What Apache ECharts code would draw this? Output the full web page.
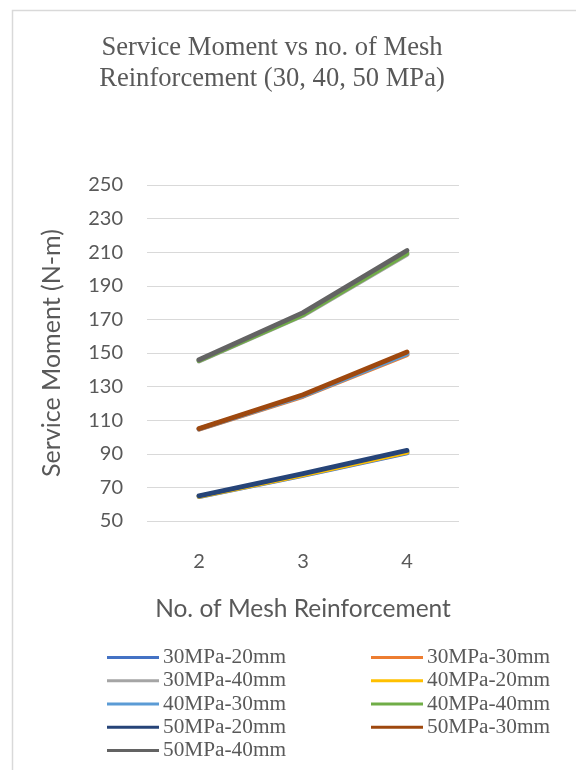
<!DOCTYPE html>
<html>
<head>
<meta charset="utf-8">
<script src="https://cdn.jsdelivr.net/npm/echarts@6/dist/echarts.min.js"></script>
<style>
  html, body { margin: 0; padding: 0; background: #fff; }
  #chart { width: 576px; height: 770px; }
</style>
</head>
<body>
<div id="chart"></div>
<script>
// Number of mesh layers on the x axis
const meshCounts = ['2', '3', '4'];

// Service moment (N-m) per concrete strength / bar spacing
const m30_20 = [64.5, 77.2, 90.6];
const m30_30 = [104.6, 124.2, 149.0];
const m30_40 = [145.2, 172.4, 208.6];
const m40_20 = [64.7, 77.5, 91.0];
const m40_30 = [104.8, 124.6, 149.6];
const m40_40 = [145.5, 172.8, 209.2];
const m50_20 = [65.0, 78.2, 92.0];
const m50_30 = [105.0, 125.2, 150.6];
const m50_40 = [146.0, 174.0, 211.0];

const seriesNames = [
  '30MPa-20mm', '30MPa-30mm', '30MPa-40mm',
  '40MPa-20mm', '40MPa-30mm', '40MPa-40mm',
  '50MPa-20mm', '50MPa-30mm', '50MPa-40mm'
];
const seriesData = [m30_20, m30_30, m30_40, m40_20, m40_30, m40_40, m50_20, m50_30, m50_40];
const seriesColors = [
  '#4472C4', '#ED7D31', '#A5A5A5',
  '#FFC000', '#5B9BD5', '#70AD47',
  '#264478', '#9E480E', '#636363'
];

const chartTitle = 'Service Moment vs no. of Mesh\nReinforcement (30, 40, 50 MPa)';

const serif = '"Liberation Serif", "Times New Roman", serif';
const sans = 'Lato, "Open Sans", sans-serif';
const textGrey = '#595959';

const chart = echarts.init(document.getElementById('chart'), null, { renderer: 'canvas' });

const legendBase = {
  orient: 'vertical',
  icon: 'rect',
  itemWidth: 52,
  itemHeight: 3,
  itemGap: 0,
  padding: 0,
  textStyle: { fontFamily: serif, fontSize: 21.3, color: textGrey, lineHeight: 23.2, padding: [0, 0, 0, -1] }
};

chart.setOption({
  animation: false,
  backgroundColor: '#ffffff',
  graphic: [
    {
      // chart-area frame
      type: 'rect',
      shape: { x: 12.5, y: 10.5, width: 700, height: 900 },
      style: { fill: 'none', stroke: '#d9d9d9', lineWidth: 1.5 },
      silent: true
    },
    {
      type: 'text',
      x: 272,
      y: 33,
      silent: true,
      style: {
        text: chartTitle,
        fontFamily: serif,
        fontSize: 26.6,
        lineHeight: 30.5,
        fill: textGrey,
        align: 'center',
        verticalAlign: 'top'
      }
    }
  ],
  legend: [
    Object.assign({ left: 107, top: 646, data: ['30MPa-20mm', '30MPa-40mm', '40MPa-30mm', '50MPa-20mm', '50MPa-40mm'] }, legendBase),
    Object.assign({ left: 371, top: 646, data: ['30MPa-30mm', '40MPa-20mm', '40MPa-40mm', '50MPa-30mm'] }, legendBase)
  ],
  grid: { left: 147, top: 185, width: 312, height: 336 },
  xAxis: {
    type: 'category',
    data: meshCounts,
    boundaryGap: true,
    axisLine: { show: false },
    axisTick: { show: false },
    axisLabel: { fontFamily: sans, fontSize: 20, color: textGrey, margin: 31 },
    name: 'No. of Mesh Reinforcement',
    nameLocation: 'middle',
    nameGap: 76,
    nameTextStyle: { fontFamily: sans, fontSize: 24.5, color: textGrey }
  },
  yAxis: {
    type: 'value',
    min: 50,
    max: 250,
    interval: 20,
    axisLine: { show: false },
    axisTick: { show: false },
    splitLine: { lineStyle: { color: '#d9d9d9', width: 1 } },
    axisLabel: { fontFamily: sans, fontSize: 20, color: textGrey, margin: 24 },
    name: 'Service Moment (N-m)',
    nameLocation: 'middle',
    nameGap: 83,
    nameTextStyle: { fontFamily: sans, fontSize: 25, color: textGrey }
  },
  series: seriesNames.map((name, i) => ({
    name: name,
    type: 'line',
    data: seriesData[i],
    symbol: 'none',
    color: seriesColors[i],
    lineStyle: { width: 4.8, color: seriesColors[i], cap: 'round', join: 'round' }
  }))
});
</script>
</body>
</html>
